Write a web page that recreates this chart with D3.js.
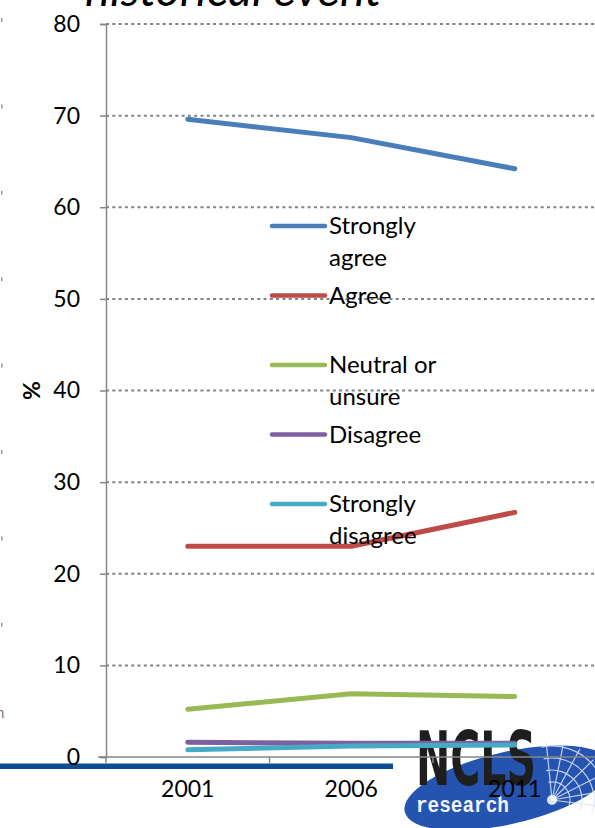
<!DOCTYPE html>
<html>
<head>
<meta charset="utf-8">
<script src="https://cdn.jsdelivr.net/npm/d3@7/dist/d3.min.js"></script>
<style>
  html, body { margin: 0; padding: 0; background: #fff; }
  svg { display: block; }
</style>
</head>
<body>
<svg id="chart" width="595" height="828"></svg>
<script>
// Survey years and responses (%)
const years = ["2001", "2006", "2011"];
const seriesNames = ["Strongly agree", "Agree", "Neutral or unsure", "Disagree", "Strongly disagree"];
const legendLines = [["Strongly", "agree"], ["Agree"], ["Neutral or", "unsure"], ["Disagree"], ["Strongly", "disagree"]];
const stronglyAgree = [69.6, 67.6, 64.2];
const agree = [23.0, 23.0, 26.7];
const neutral = [5.2, 6.9, 6.6];
const disagree = [1.6, 1.5, 1.5];
const stronglyDisagree = [0.8, 1.2, 1.3];
const yTicks = [0, 10, 20, 30, 40, 50, 60, 70, 80];
const colors = ["#4a7ebb", "#be4b48", "#98b954", "#7d60a0", "#46aac5"];

const seriesValues = [stronglyAgree, agree, neutral, disagree, stronglyDisagree];

const svg = d3.select("#chart");
const font = "Lato, 'Open Sans', sans-serif";

const plotLeft = 106, plotRight = 596.5, plotTop = 24, plotBottom = 757;
const x = d3.scaleBand().domain(years).range([plotLeft, plotRight]);
const y = d3.scaleLinear().domain([0, 80]).range([plotBottom, plotTop]);
const cx = d => x(d) + x.bandwidth() / 2;

// Slide decorations on the left edge
const deco = svg.append("g");
d3.range(8).forEach(i => {
  deco.append("rect").attr("x", 1).attr("y", 18 + i * 86.4).attr("width", 1.5).attr("height", 4).attr("fill", "#9a9a9a");
});
deco.append("text").attr("x", -4).attr("y", 718).attr("font-family", font).attr("font-size", 15)
  .attr("fill", "#777").text("n");
deco.append("rect").attr("x", 0).attr("y", 764).attr("width", 393).attr("height", 5).attr("fill", "#0b4c93");
deco.append("rect").attr("x", 0).attr("y", 763).attr("width", 393).attr("height", 1).attr("fill", "#7fa6cf");

// Title (partly above the page)
svg.append("text").attr("x", 85).attr("y", 6)
  .attr("font-family", font).attr("font-style", "italic").attr("font-size", 47)
  .attr("fill", "#000").text("historical event");

// NCLS research logo
const logo = svg.append("g");
logo.append("ellipse").attr("cx", 508).attr("cy", 788).attr("rx", 106).attr("ry", 36)
  .attr("transform", "rotate(-13 508 788)").attr("fill", "#2553b0");
const globe = logo.append("g").attr("stroke", "#dfe8f8").attr("stroke-width", 1.2).attr("fill", "none").attr("opacity", 0.85);
[18, 30, 42, 54].forEach(r => {
  globe.append("path").attr("d", d3.arc()({ innerRadius: r, outerRadius: r, startAngle: -0.2, endAngle: 1.9 }))
    .attr("transform", "translate(552,800)");
});
d3.range(7).forEach(i => {
  const a = -0.1 + i * 0.3;
  globe.append("line").attr("x1", 552).attr("y1", 800)
    .attr("x2", 552 + 58 * Math.sin(a)).attr("y2", 800 - 58 * Math.cos(a));
});
logo.append("circle").attr("cx", 552).attr("cy", 800).attr("r", 5).attr("fill", "#ffffff").attr("opacity", 0.85);
logo.append("text").attr("x", 416).attr("y", 785)
  .attr("font-family", "'DejaVu Sans Condensed', 'DejaVu Sans', sans-serif").attr("font-weight", "bold")
  .attr("font-size", 74).attr("textLength", 120).attr("lengthAdjust", "spacingAndGlyphs")
  .attr("fill", "#1e1e1e").text("NCLS");
logo.append("text").attr("x", 416).attr("y", 812)
  .attr("font-family", "'Liberation Mono', 'DejaVu Sans Mono', monospace").attr("font-weight", "bold")
  .attr("font-size", 22).attr("textLength", 93).attr("lengthAdjust", "spacingAndGlyphs")
  .attr("fill", "#f2f5fb").text("research");

// Gridlines
svg.append("g").selectAll("line").data(yTicks.filter(t => t > 0)).join("line")
  .attr("x1", plotLeft).attr("x2", 595).attr("y1", d => y(d)).attr("y2", d => y(d))
  .attr("stroke", "#828282").attr("stroke-width", 2).attr("stroke-dasharray", "3,3.3");

// Y axis
const yAxis = svg.append("g").attr("transform", `translate(${plotLeft},0)`)
  .call(d3.axisLeft(y).tickValues(yTicks).tickSize(6).tickPadding(20));
yAxis.select(".domain").attr("stroke", "#868686").attr("stroke-width", 1.5);
yAxis.selectAll(".tick line").attr("stroke", "#868686").attr("stroke-width", 1.5);
yAxis.selectAll(".tick text").attr("font-family", font).attr("font-size", 23).attr("fill", "#000");

svg.append("text").attr("transform", `translate(40,${y(40)}) rotate(-90)`)
  .attr("text-anchor", "middle").attr("font-family", font).attr("font-weight", "bold")
  .attr("font-size", 23).attr("fill", "#000").text("%");

// Lines
const line = d3.line().x((d, i) => cx(years[i])).y(d => y(d));
svg.append("g").selectAll("path").data(seriesValues).join("path")
  .attr("d", d => line(d)).attr("fill", "none")
  .attr("stroke", (d, i) => colors[i]).attr("stroke-width", 5)
  .attr("stroke-linecap", "round").attr("stroke-linejoin", "round");

// X axis
const xAxis = svg.append("g").attr("transform", `translate(0,${plotBottom})`)
  .call(d3.axisBottom(x).tickSize(0).tickPadding(24));
xAxis.select(".domain").remove();
xAxis.append("line").attr("x1", plotLeft - 8).attr("x2", 595).attr("stroke", "#868686").attr("stroke-width", 1.5);
xAxis.selectAll(".bound").data([plotLeft, x("2006"), x("2011")]).join("line").attr("class", "bound")
  .attr("x1", d => d).attr("x2", d => d).attr("y1", 0).attr("y2", 6)
  .attr("stroke", "#868686").attr("stroke-width", 1.5);
xAxis.selectAll(".tick text").attr("font-family", font).attr("font-size", 23).attr("fill", "#000");

// Legend
const legend = svg.append("g");
const entries = legend.selectAll("g").data(seriesNames).join("g")
  .attr("transform", (d, i) => `translate(272,${226 + i * 69.5})`);
entries.append("line").attr("x1", 0).attr("x2", 53).attr("y1", 0).attr("y2", 0)
  .attr("stroke", (d, i) => colors[i]).attr("stroke-width", 4.5).attr("stroke-linecap", "round");
entries.append("text").attr("x", 57).attr("y", 8)
  .attr("font-family", font).attr("font-size", 24).attr("fill", "#000")
  .selectAll("tspan").data((d, i) => legendLines[i]).join("tspan")
  .attr("x", 57).attr("dy", (d, j) => j === 0 ? 0 : 32).text(d => d);
</script>
</body>
</html>
